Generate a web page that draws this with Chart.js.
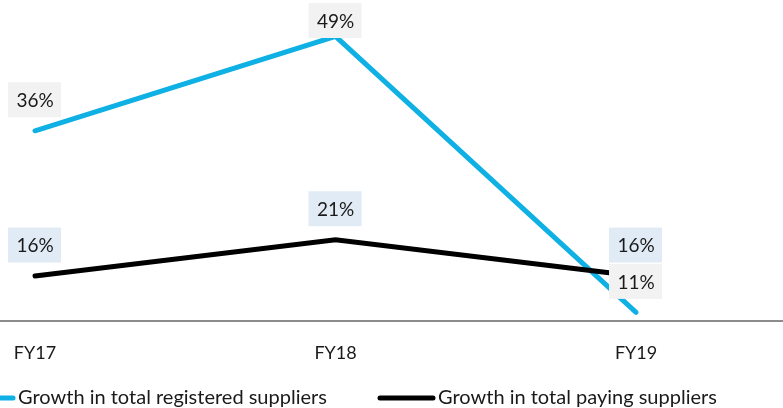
<!DOCTYPE html>
<html>
<head>
<meta charset="utf-8">
<script src="https://cdn.jsdelivr.net/npm/chart.js@4.4.1/dist/chart.umd.min.js"></script>
<style>
  body { margin: 0; background: #fff; }
  canvas { display: block; }
</style>
</head>
<body>
<canvas id="growthChart" width="783" height="408"></canvas>
<script>
const categories = ['FY17', 'FY18', 'FY19'];
const registeredGrowth = [36, 49, 11];
const payingGrowth = [16, 21, 16];
const seriesNames = ['Growth in total registered suppliers', 'Growth in total paying suppliers'];

const FONT = 'Lato, "Noto Sans", sans-serif';

// boxed value labels above each point
const valueLabels = {
  id: 'valueLabels',
  afterDatasetsDraw(chart) {
    const ctx = chart.ctx;
    const fills = ['#f2f2f2', '#e1ebf5'];
    ctx.save();
    ctx.font = '19px ' + FONT;
    ctx.textAlign = 'center';
    ctx.textBaseline = 'middle';
    chart.data.datasets.forEach(function (ds, di) {
      const meta = chart.getDatasetMeta(di);
      meta.data.forEach(function (pt, i) {
        let cy = pt.y - 31;
        if (cy - 17.5 < 3) cy = 20.5;
        ctx.fillStyle = fills[di];
        ctx.fillRect(pt.x - 27, cy - 17.5, 53, 35);
        ctx.fillStyle = '#1a1a1a';
        ctx.fillText(ds.data[i].y + '%', pt.x, cy + 1);
      });
    });
    ctx.restore();
  }
};

// legend drawn like the original (partly cut off at the left)
const lineLegend = {
  id: 'lineLegend',
  afterDraw(chart) {
    const ctx = chart.ctx;
    const y = 398;
    const spots = [-40, 380];
    ctx.save();
    ctx.font = '20px ' + FONT;
    ctx.textBaseline = 'middle';
    chart.data.datasets.forEach(function (ds, di) {
      const x = spots[di];
      ctx.strokeStyle = ds.borderColor;
      ctx.lineWidth = 5;
      ctx.lineCap = 'round';
      ctx.beginPath();
      ctx.moveTo(x, y);
      ctx.lineTo(x + 53, y);
      ctx.stroke();
      ctx.fillStyle = '#1a1a1a';
      ctx.fillText(ds.label, x + 58, y);
    });
    ctx.restore();
  }
};

new Chart(document.getElementById('growthChart'), {
  type: 'line',
  data: {
    datasets: [{
      label: seriesNames[0],
      data: registeredGrowth.map((v, i) => ({ x: i, y: v })),
      borderColor: '#0fb0e4',
      borderWidth: 5,
      borderCapStyle: 'round',
      pointRadius: 0,
      tension: 0,
      order: 1
    }, {
      label: seriesNames[1],
      data: payingGrowth.map((v, i) => ({ x: i, y: v })),
      borderColor: '#000000',
      borderWidth: 5,
      borderCapStyle: 'round',
      pointRadius: 0,
      tension: 0,
      order: 0
    }]
  },
  options: {
    responsive: false,
    animation: false,
    devicePixelRatio: 1,
    layout: { padding: { left: -4, right: 0, top: 0, bottom: 31 } },
    plugins: { legend: { display: false }, tooltip: { enabled: false } },
    scales: {
      x: {
        type: 'linear',
        min: -0.1165,
        max: 2.489,
        afterBuildTicks: function (scale) {
          scale.ticks = categories.map((c, i) => ({ value: i }));
        },
        grid: { display: false },
        border: { display: true, color: '#8c8c8c', width: 2 },
        ticks: {
          padding: 13,
          autoSkip: false,
          maxRotation: 0,
          color: '#1a1a1a',
          font: { family: FONT, size: 18 },
          callback: function (value) { return categories[value]; }
        }
      },
      y: {
        display: false,
        min: 9.76,
        max: 54
      }
    }
  },
  plugins: [valueLabels, lineLegend]
});
</script>
</body>
</html>
